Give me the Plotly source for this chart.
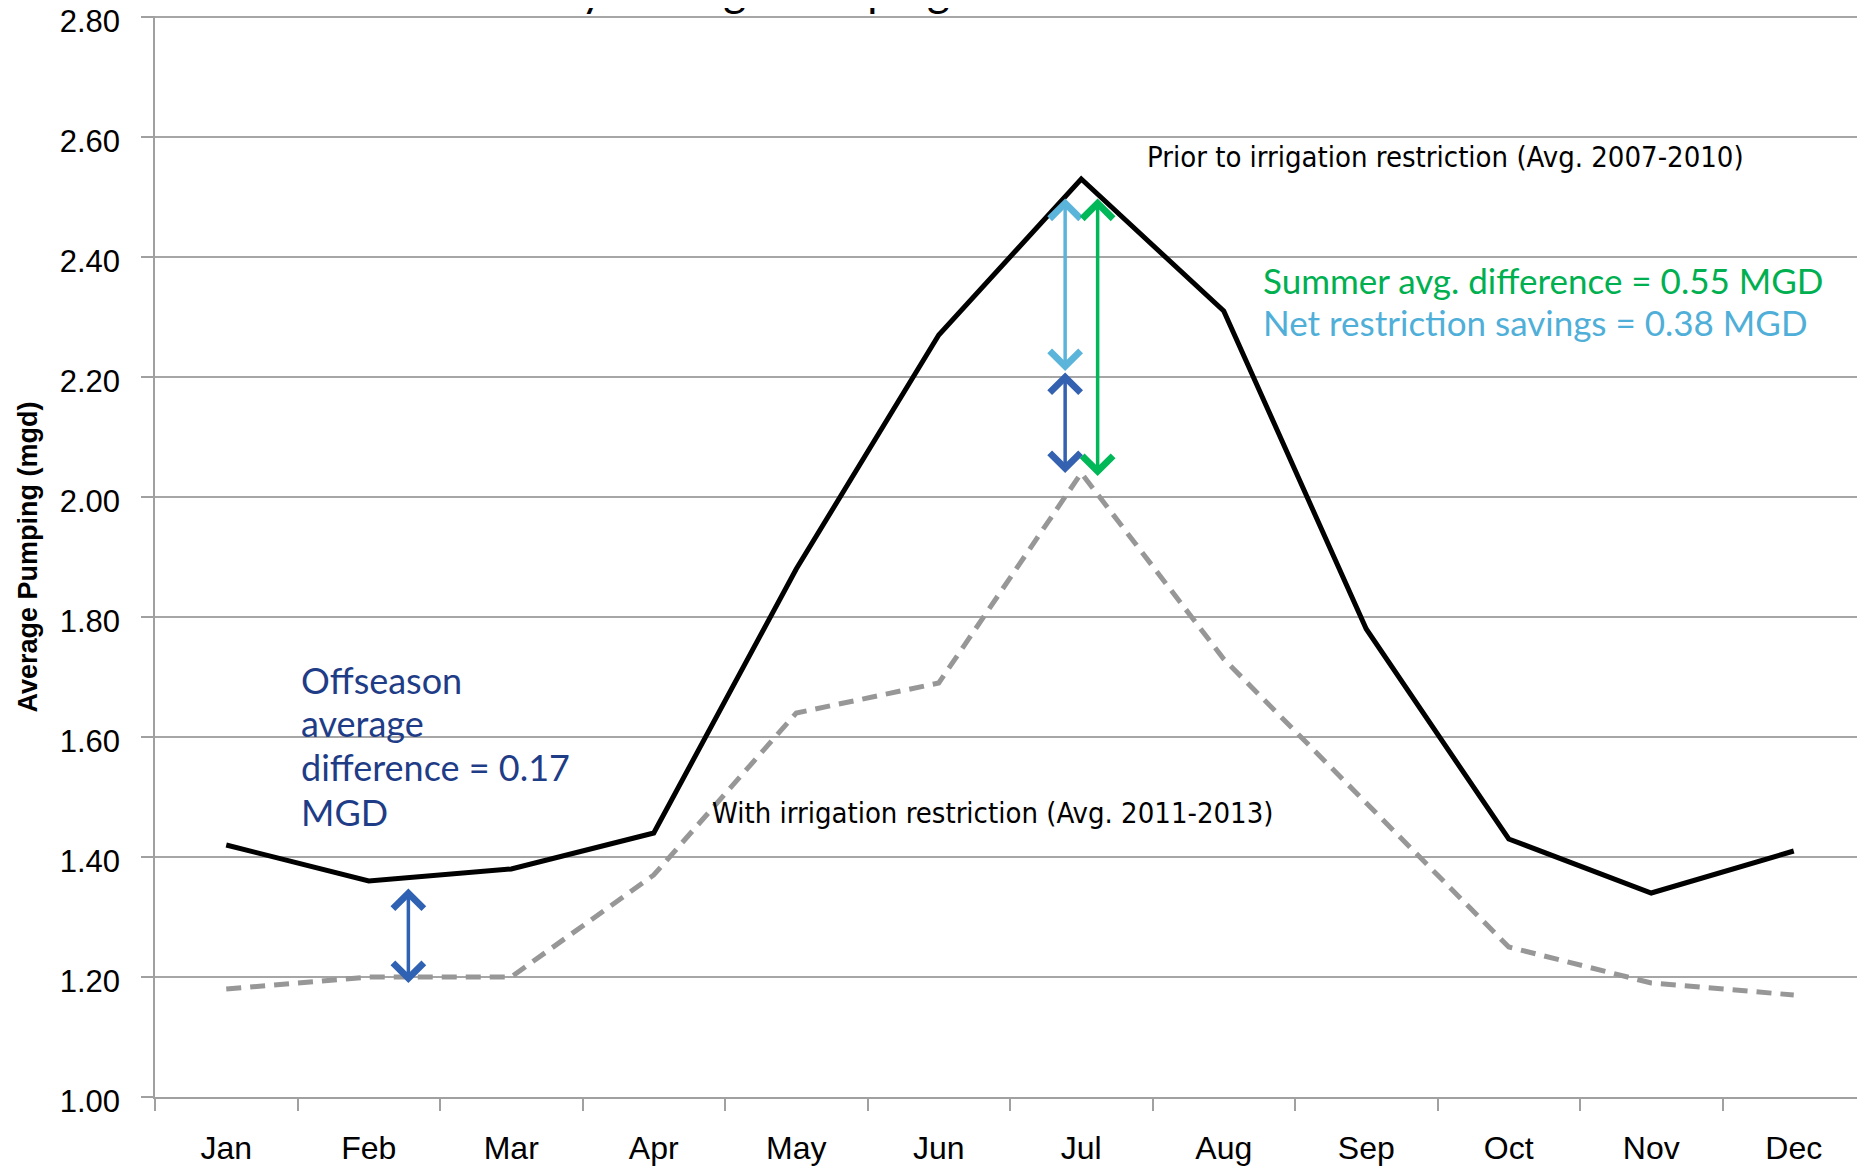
import plotly.graph_objects as go

months = ["Jan", "Feb", "Mar", "Apr", "May", "Jun", "Jul", "Aug", "Sep", "Oct", "Nov", "Dec"]
prior = [1.42, 1.36, 1.38, 1.44, 1.88, 2.27, 2.53, 2.31, 1.78, 1.43, 1.34, 1.41]
with_restr = [1.18, 1.20, 1.20, 1.37, 1.64, 1.69, 2.04, 1.73, 1.49, 1.25, 1.19, 1.17]

# arrows: x position (category index), y start, y end, colour
arrow_x = [1.278, 5.887, 5.887, 6.115]
arrow_y0 = [1.19, 2.21, 2.04, 2.035]
arrow_y1 = [1.35, 2.50, 2.21, 2.50]
arrow_col = ["#3062B4", "#5BB5DB", "#3461B0", "#00B858"]

ytick_vals = [1.0, 1.2, 1.4, 1.6, 1.8, 2.0, 2.2, 2.4, 2.6, 2.8]

LABEL_FONT = "DejaVu Sans Condensed, Liberation Sans Narrow, Open Sans, sans-serif"
GEO_FONT = "Lato, Open Sans, sans-serif"
TICK_FONT = "Liberation Sans, Arial, sans-serif"

fig = go.Figure()
fig.add_trace(go.Scatter(x=months, y=prior, mode="lines",
                         line=dict(color="#000000", width=5),
                         showlegend=False, hoverinfo="skip"))
fig.add_trace(go.Scatter(x=months, y=with_restr, mode="lines",
                         line=dict(color="#979797", width=5, dash="15px,9px"),
                         showlegend=False, hoverinfo="skip"))

annotations = []
for xi, y0, y1, c in zip(arrow_x, arrow_y0, arrow_y1, arrow_col):
    annotations.append(dict(x=xi, y=y0, ax=xi, ay=y1, xref="x", yref="y",
                            axref="x", ayref="y", text="", showarrow=True,
                            arrowhead=4, startarrowhead=4, arrowside="end+start",
                            arrowsize=1.7, startarrowsize=1.7, arrowwidth=3.5,
                            arrowcolor=c, standoff=0, startstandoff=0))

annotations += [
    dict(x=6.45, y=2.567, xref="x", yref="y", xanchor="left", yanchor="middle",
         text="Prior to irrigation restriction (Avg. 2007-2010)", showarrow=False,
         font=dict(family=LABEL_FONT, size=29, color="#000000")),
    dict(x=3.395, y=1.473, xref="x", yref="y", xanchor="left", yanchor="middle",
         text="With irrigation restriction (Avg. 2011-2013)", showarrow=False,
         font=dict(family=LABEL_FONT, size=29, color="#000000")),
    dict(x=7.26, y=2.362, xref="x", yref="y", xanchor="left", yanchor="middle",
         text="Summer avg. difference = 0.55 MGD", showarrow=False,
         font=dict(family=GEO_FONT, size=35, color="#00B050")),
    dict(x=7.26, y=2.292, xref="x", yref="y", xanchor="left", yanchor="middle",
         text="Net restriction savings = 0.38 MGD", showarrow=False,
         font=dict(family=GEO_FONT, size=35, color="#4FAFD8")),
]
off_lines = ["Offseason", "average", "difference = 0.17", "MGD"]
off_y = [1.695, 1.623, 1.55, 1.475]
for t, yy in zip(off_lines, off_y):
    annotations.append(dict(x=0.51, y=yy, xref="x", yref="y", xanchor="left",
                            yanchor="middle", text=t, showarrow=False,
                            font=dict(family=GEO_FONT, size=36, color="#1F3D87")))

annotations.append(dict(x=-0.0743, y=0.5, xref="paper", yref="paper",
                        xanchor="center", yanchor="middle", textangle=-90,
                        text="<b>Average Pumping (mgd)</b>", showarrow=False,
                        font=dict(family=TICK_FONT, size=27, color="#000000")))
annotations.append(dict(x=0.316, y=0.999, xref="paper", yref="paper",
                        xanchor="center", yanchor="bottom",
                        text="Monthly Average Pumping", showarrow=False,
                        font=dict(family=GEO_FONT, size=44, color="#000000")))

fig.update_layout(
    width=1857, height=1159,
    margin=dict(l=147, r=0, t=8, b=70, autoexpand=False),
    paper_bgcolor="white", plot_bgcolor="white",
    annotations=annotations,
    xaxis=dict(type="category", categoryorder="array", categoryarray=months,
               tickson="boundaries", ticks="outside", ticklen=12, tickwidth=1.5,
               tickcolor="#A0A0A0", showline=True, linecolor="#A0A0A0", linewidth=2,
               showgrid=False, range=[-0.5, 11.5], ticklabelstandoff=22,
               automargin=False,
               tickfont=dict(family=TICK_FONT, size=32, color="#000000")),
    yaxis=dict(range=[1.0, 2.8017], tickvals=ytick_vals, tickformat=".2f",
               ticks="outside", ticklen=12, tickwidth=2, tickcolor="#A0A0A0",
               showline=True, linecolor="#A0A0A0", linewidth=1.5,
               showgrid=True, gridcolor="#A6A6A6", gridwidth=2, zeroline=False,
               ticklabelstandoff=15, ticklabelshift=4, ticklabeloverflow="allow",
               automargin=False,
               tickfont=dict(family=TICK_FONT, size=31, color="#000000")),
)

fig.write_html("out.html")
